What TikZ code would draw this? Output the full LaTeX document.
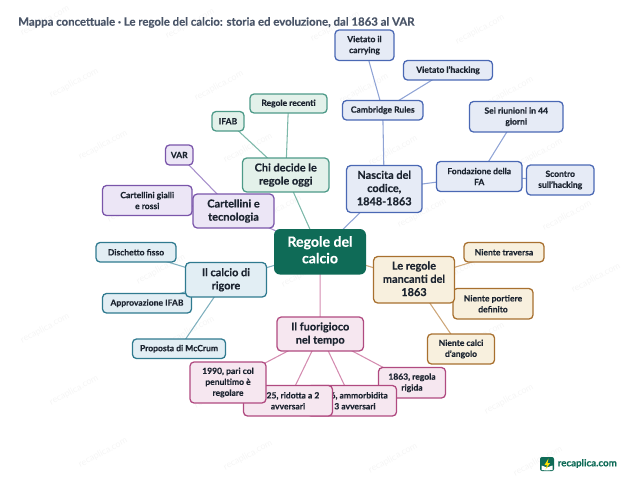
\documentclass[tikz,border=0pt]{standalone}
\usepackage{fontspec}
\setmainfont{Lato}[BoldFont={Lato Bold},BoldFeatures={FakeBold=0.25}]
\usetikzlibrary{backgrounds}
\definecolor{cR}{HTML}{0F6B57}
\definecolor{tG}{HTML}{4D9A88}\definecolor{fG}{HTML}{E3F1EA}\definecolor{eG}{HTML}{7DB8A9}
\definecolor{tP}{HTML}{7A55AA}\definecolor{fP}{HTML}{ECE6F6}\definecolor{eP}{HTML}{A78FCB}
\definecolor{tB}{HTML}{4A68B4}\definecolor{fB}{HTML}{E6EBF6}\definecolor{eB}{HTML}{8FA3D5}
\definecolor{tC}{HTML}{2F7A8F}\definecolor{fC}{HTML}{E2EEF4}\definecolor{eC}{HTML}{7FB0BE}
\definecolor{tM}{HTML}{B04A80}\definecolor{fM}{HTML}{F6E7F0}\definecolor{eM}{HTML}{D48CB0}
\definecolor{tO}{HTML}{A8702F}\definecolor{fO}{HTML}{F8F0DE}\definecolor{eO}{HTML}{CDA678}
\definecolor{ink}{HTML}{1C2430}
\definecolor{ttl}{HTML}{4A5568}
\tikzset{
 x=0.75pt,y=-0.75pt,
 base/.style={draw,rectangle,align=center,inner sep=0pt,line width=0.95pt,text=ink},
 leaf/.style={base,rounded corners=3pt,font=\fontsize{6.4}{8.2}\selectfont\bfseries},
 branch/.style={base,rounded corners=3.2pt,font=\fontsize{8.2}{9.9}\selectfont\bfseries},
 rootbox/.style={rectangle,fill=cR,align=center,text=white,rounded corners=4.5pt,inner sep=0pt,font=\fontsize{10.6}{12.4}\selectfont\bfseries},
 G/.style={draw=tG,fill=fG},P/.style={draw=tP,fill=fP},B/.style={draw=tB,fill=fB},
 C/.style={draw=tC,fill=fC},M/.style={draw=tM,fill=fM},O/.style={draw=tO,fill=fO},
 link/.style={line width=0.8pt},
 wmark/.style={text=black!4,rotate=28,font=\fontsize{6.8}{8}\selectfont},
}
% \nd{style}{name}{x1}{y1}{x2}{y2}{text}
\newcommand{\nd}[7]{%
 \pgfmathsetmacro{\nodeW}{(#5-#3)*0.75}\pgfmathsetmacro{\nodeH}{(#6-#4)*0.75}%
 \node[#1,minimum width=\nodeW pt,minimum height=\nodeH pt] (#2) at ({(#3+#5)/2},{(#4+#6)/2}) {#7};}
\newcommand{\bup}{\\[-8.4pt]\mbox{}}
\begin{document}
\begin{tikzpicture}
\useasboundingbox (0,0) rectangle (640,480);
\node[anchor=west,inner sep=0pt,text=ttl,font=\fontsize{8.55}{11}\selectfont\bfseries] (title) at (18,22.5) {Mappa concettuale · Le regole del calcio: storia ed evoluzione, dal 1863 al VAR};
% branches and leaves, lowest first
\nd{leaf,G}{recenti}{250}{94}{327}{113}{Regole recenti}
\nd{leaf,G}{ifab}{212}{111.5}{244}{131}{IFAB}
\nd{branch,G}{chi}{242.5}{158}{329}{192}{Chi decide le\\regole oggi\bup}
\nd{leaf,P}{gialli}{102.5}{185.5}{192}{215.5}{Cartellini gialli\\e rossi}
\nd{leaf,P}{var}{165.5}{145}{193}{165}{VAR}
\nd{branch,P}{tecno}{193}{194}{274}{228}{Cartellini e\\tecnologia\bup}
\nd{leaf,B}{carrying}{335}{30}{394}{60.5}{Vietato il\\carrying}
\nd{leaf,B}{hacking}{403.5}{60.5}{492.5}{80}{Vietato l'hacking}
\nd{leaf,B}{cambridge}{342.5}{100.5}{423}{120}{Cambridge Rules}
\nd{branch,B}{nascita}{346.5}{165.5}{422}{212.5}{Nascita del\\codice,\\1848-1863\bup}
\nd{leaf,B}{riunioni}{469.5}{101.5}{563}{132}{Sei riunioni in 44\\giorni}
\nd{leaf,B}{scontro}{526.5}{165}{594}{195}{Scontro\\sull'hacking}
\nd{leaf,B}{fa}{436.5}{161.5}{522}{191.5}{Fondazione della\\FA}
\nd{leaf,C}{dischetto}{96}{242.5}{176}{262}{Dischetto fisso}
\nd{leaf,C}{approva}{102.5}{293.5}{191.5}{313}{Approvazione IFAB}
\nd{leaf,C}{mccrum}{132.5}{339}{225.5}{358.5}{Proposta di McCrum}
\nd{branch,C}{rigore}{185.5}{262.5}{266.5}{297}{Il calcio di\\rigore\bup}
\nd{branch,M}{fuori}{277}{317}{363.5}{351}{Il fuorigioco\\nel tempo\bup}
\nd{leaf,M}{a1863}{378.5}{367.5}{445.5}{398}{1863, regola\\rigida}
\nd{leaf,M}{a1866}{307}{385.5}{396.5}{416}{1866, ammorbidita\\a 3 avversari}
\nd{leaf,M}{a1925}{243.5}{385.5}{332.5}{416}{1925, ridotta a 2\\avversari}
\nd{leaf,M}{a1990}{190}{362}{266}{403}{1990, pari col\\penultimo è\\regolare}
\nd{leaf,O}{traversa}{464}{242.5}{544}{262}{Niente traversa}
\nd{leaf,O}{portiere}{453}{288.5}{533}{319}{Niente portiere\\definito}
\nd{leaf,O}{angolo}{427.5}{334}{494.5}{364}{Niente calci\\d'angolo}
\nd{branch,O}{mancanti}{373.5}{256.5}{454.5}{303}{Le regole\\mancanti del\\1863\bup}
\nd{rootbox}{centro}{274}{229}{366}{274.5}{Regole del\\calcio\\[-9.4pt]\mbox{}}
% logo
\node[rectangle,fill=cR,rounded corners=1.5pt,minimum size=10.5pt,inner sep=0pt] (logo) at (547,464) {};
\fill[white] (541.5,465.5) -- (547,467.5) -- (552.5,465.5) -- (552.5,470) -- (547,470.5) -- (541.5,470) -- cycle;
\fill[yellow!85!orange] (548.5,458.5) -- (544.5,465) -- (547,465) -- (545.5,469.5) -- (550,463.2) -- (547.5,463.2) -- cycle;
\node[anchor=west,text=cR,inner sep=0pt,font=\fontsize{7.3}{9}\selectfont\bfseries] (brand) at (557.5,463.5) {recaplica.com};
\begin{pgfonlayer}{background}
\foreach \ro in {0,...,7}{
 \foreach \ka in {-1,...,5}{
  \pgfmathsetmacro{\wx}{45+29*\ro+145*\ka}
  \pgfmathsetmacro{\wy}{20+61.5*\ro+0.02*\wx}
  \pgfmathparse{(\wx>25 && \wx<615) ? 1 : 0}
  \ifnum\pgfmathresult=1
   \node[wmark] at (\wx,\wy) {recaplica.com};
  \fi
 }}
\draw[link,eG] (centro.center) -- (chi.center);
\draw[link,eG] (chi.center) -- (recenti.center);
\draw[link,eG] (chi.center) -- (ifab.center);
\draw[link,eP] (centro.center) -- (tecno.center);
\draw[link,eP] (tecno.center) -- (gialli.center);
\draw[link,eP] (tecno.center) -- (var.center);
\draw[link,eB] (centro.center) -- (nascita.center);
\draw[link,eB] (nascita.center) -- (cambridge.center);
\draw[link,eB] (cambridge.center) -- (carrying.center);
\draw[link,eB] (cambridge.center) -- (hacking.center);
\draw[link,eB] (nascita.center) -- (fa.center);
\draw[link,eB] (fa.center) -- (riunioni.center);
\draw[link,eB] (fa.center) -- (scontro.center);
\draw[link,eC] (centro.center) -- (rigore.center);
\draw[link,eC] (rigore.center) -- (dischetto.center);
\draw[link,eC] (rigore.center) -- (approva.center);
\draw[link,eC] (rigore.center) -- (mccrum.center);
\draw[link,eM] (centro.center) -- (fuori.center);
\draw[link,eM] (fuori.center) -- (a1863.center);
\draw[link,eM] (fuori.center) -- (a1866.center);
\draw[link,eM] (fuori.center) -- (a1925.center);
\draw[link,eM] (fuori.center) -- (a1990.center);
\draw[link,eO] (centro.center) -- (mancanti.center);
\draw[link,eO] (mancanti.center) -- (traversa.center);
\draw[link,eO] (mancanti.center) -- (portiere.center);
\draw[link,eO] (mancanti.center) -- (angolo.center);
\end{pgfonlayer}
\end{tikzpicture}
\end{document}
